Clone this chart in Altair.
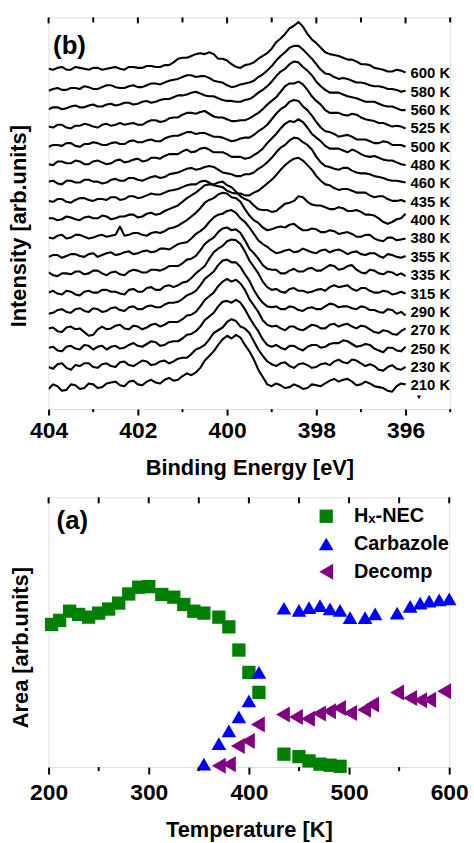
import altair as alt
import pandas as pd

# ---------------- data: panel (b) N1s spectra ----------------
energy = [404.0, 403.8, 403.6, 403.4, 403.2, 403.0, 402.8, 402.6, 402.4, 402.2,
          402.0, 401.8, 401.6, 401.4, 401.2, 401.0, 400.8, 400.6, 400.4, 400.2,
          400.0, 399.8, 399.6, 399.4, 399.2, 399.0, 398.8, 398.6, 398.4, 398.2,
          398.0, 397.8, 397.6, 397.4, 397.2, 397.0, 396.8, 396.6, 396.4, 396.2, 396.0]
energy_mid = [403.9, 403.7, 403.5, 403.3, 403.1, 402.9, 402.7, 402.5, 402.3, 402.1,
              401.9, 401.7, 401.5, 401.3, 401.1, 400.9, 400.7, 400.5, 400.3, 400.1,
              399.9, 399.7, 399.5, 399.3, 399.1, 398.9, 398.7, 398.5, 398.3, 398.1,
              397.9, 397.7, 397.5, 397.3, 397.1, 396.9, 396.7, 396.5, 396.3, 396.1]

spectrum_labels = ["210 K", "230 K", "250 K", "270 K", "290 K", "315 K", "335 K", "355 K",
                   "380 K", "400 K", "435 K", "460 K", "480 K", "500 K", "525 K", "560 K",
                   "580 K", "600 K"]

s210 = [-0.2, -0.05, -0.25, 0.0, -0.15, 0.05, -0.1, 0.15, 0.0, 0.2, 0.05, 0.2, 0.15, 0.3, 0.25, 0.5, 0.55, 0.95, 1.6, 2.2, 2.7, 2.75, 2.2, 1.4, 0.45, -0.05, 0.0, -0.1, -0.05, -0.15, 0.0, 0.1, 0.35, 0.3, 0.2, 0.05, 0.1, -0.1, -0.3, -0.05, 0.05]
m210 = [0.05, -0.3, 0.05, -0.2, 0.1, -0.15, 0.1, 0.2, -0.05, 0.25, 0.0, 0.3, 0.1, 0.4, 0.3, 0.65, 0.7, 1.35, 1.85, 2.5, 2.55, 2.6, 1.85, 0.85, 0.05, 0.1, -0.15, 0.05, -0.2, 0.05, -0.05, 0.25, 0.2, 0.35, 0.0, 0.2, -0.05, -0.15, -0.35, 0.1]
s230 = [0.0, 0.15, -0.05, 0.1, 0.2, 0.0, 0.15, 0.05, 0.25, 0.1, 0.2, 0.3, 0.15, 0.35, 0.3, 0.5, 0.7, 1.05, 1.5, 2.0, 2.45, 2.5, 2.1, 1.4, 0.6, 0.15, 0.2, 0.05, 0.15, 0.1, 0.0, 0.2, 0.3, 0.25, 0.4, 0.2, 0.15, -0.15, 0.0, -0.1, 0.0]
m230 = [-0.1, 0.2, -0.15, 0.05, 0.2, -0.05, 0.2, 0.0, 0.3, 0.05, 0.35, 0.1, 0.3, 0.2, 0.45, 0.5, 0.95, 1.2, 1.85, 2.15, 2.6, 2.2, 1.85, 0.95, 0.3, 0.05, 0.25, -0.05, 0.2, -0.05, 0.15, 0.1, 0.4, 0.2, 0.35, 0.05, 0.05, -0.2, 0.1, -0.15]
s250 = [0.05, -0.1, 0.1, 0.0, 0.2, -0.05, 0.15, 0.1, 0.0, 0.2, 0.15, 0.25, 0.35, 0.2, 0.4, 0.55, 0.8, 1.2, 1.75, 2.3, 2.6, 2.65, 2.15, 1.3, 0.5, 0.1, 0.05, 0.15, 0.0, 0.1, 0.2, 0.1, 0.3, 0.45, 0.25, 0.15, 0.2, -0.1, 0.05, -0.1, 0.1]
m250 = [0.1, -0.15, 0.15, -0.05, 0.15, 0.1, -0.05, 0.15, 0.05, 0.3, 0.1, 0.4, 0.15, 0.35, 0.4, 0.75, 0.95, 1.55, 1.95, 2.55, 2.5, 2.5, 1.7, 0.95, 0.2, 0.2, -0.05, 0.15, -0.1, 0.2, 0.05, 0.25, 0.3, 0.4, 0.1, 0.25, 0.0, -0.2, 0.05, -0.15]
s270 = [0.1, -0.05, 0.15, 0.05, -0.1, -0.25, 0.2, 0.1, 0.3, 0.05, 0.2, 0.15, 0.35, 0.3, 0.45, 0.6, 0.85, 1.3, 1.85, 2.4, 2.8, 2.75, 2.2, 1.35, 0.55, 0.2, 0.1, 0.2, 0.05, 0.15, 0.25, 0.1, 0.35, 0.3, 0.2, 0.25, 0.05, -0.15, -0.05, -0.25, 0.1]
m270 = [0.15, -0.1, 0.2, 0.1, -0.3, 0.05, 0.05, 0.25, 0.1, 0.25, 0.05, 0.3, 0.2, 0.45, 0.45, 0.8, 1.0, 1.65, 2.05, 2.65, 2.65, 2.55, 1.7, 1.0, 0.3, 0.25, 0.0, 0.2, 0.0, 0.3, 0.1, 0.3, 0.2, 0.35, 0.1, 0.2, -0.1, 0.0, -0.2, -0.05]
s290 = [-0.1, 0.1, 0.0, 0.15, 0.05, 0.2, 0.0, 0.2, 0.1, 0.25, 0.15, 0.3, 0.25, 0.4, 0.5, 0.7, 1.0, 1.45, 2.0, 2.55, 2.85, 2.7, 2.05, 1.2, 0.5, 0.25, 0.15, 0.3, 0.1, 0.2, 0.15, 0.3, 0.4, 0.3, 0.2, 0.3, 0.1, 0.0, 0.15, -0.1, -0.2]
m290 = [-0.05, 0.15, -0.05, 0.2, 0.0, 0.15, 0.05, 0.25, 0.05, 0.3, 0.15, 0.35, 0.25, 0.5, 0.55, 0.9, 1.15, 1.8, 2.2, 2.8, 2.7, 2.45, 1.7, 0.8, 0.3, 0.3, 0.15, 0.25, 0.05, 0.25, 0.15, 0.45, 0.25, 0.3, 0.15, 0.25, 0.1, -0.05, 0.1, 0.0]
s315 = [0.05, 0.0, 0.15, -0.05, 0.1, 0.05, 0.2, 0.1, 0.0, 0.2, 0.1, 0.3, 0.2, 0.4, 0.35, 0.6, 0.85, 1.3, 1.9, 2.45, 2.85, 2.9, 2.3, 1.45, 0.65, 0.2, 0.1, 0.25, 0.15, 0.05, 0.2, 0.15, 0.45, 0.4, 0.25, 0.3, 0.15, 0.05, 0.1, 0.0, 0.0]
m315 = [0.15, -0.05, 0.1, -0.1, 0.15, 0.05, 0.2, 0.1, -0.05, 0.25, 0.1, 0.35, 0.2, 0.45, 0.45, 0.65, 1.1, 1.5, 2.25, 2.6, 2.95, 2.7, 1.8, 1.1, 0.35, 0.25, 0.05, 0.3, 0.15, 0.1, 0.25, 0.35, 0.35, 0.45, 0.15, 0.3, 0.05, 0.15, -0.05, 0.1]
s335 = [0.15, -0.05, 0.1, 0.2, 0.05, 0.25, 0.1, 0.15, 0.05, 0.2, 0.25, 0.15, 0.3, 0.35, 0.5, 0.65, 0.9, 1.35, 1.9, 2.35, 2.6, 2.5, 1.9, 1.2, 0.55, 0.3, 0.1, 0.25, 0.2, 0.35, 0.25, 0.4, 0.5, 0.35, 0.55, 0.15, 0.3, 0.1, 0.2, 0.0, -0.05]
m335 = [0.0, 0.1, 0.05, 0.2, 0.1, 0.25, 0.0, 0.2, 0.0, 0.3, 0.15, 0.3, 0.25, 0.5, 0.5, 0.85, 1.05, 1.7, 2.05, 2.55, 2.45, 2.3, 1.45, 0.9, 0.35, 0.3, 0.1, 0.35, 0.2, 0.4, 0.25, 0.55, 0.3, 0.5, 0.3, 0.1, 0.25, 0.05, 0.15, 0.1]
s355 = [0.0, 0.1, 0.05, 0.15, 0.0, 0.2, 0.1, 0.25, 0.15, 0.3, 0.2, 0.35, 0.3, 0.45, 0.55, 0.75, 1.0, 1.4, 1.9, 2.3, 2.5, 2.4, 1.9, 1.25, 0.7, 0.35, 0.25, 0.4, 0.3, 0.35, 0.2, 0.4, 0.35, 0.3, 0.25, 0.15, 0.2, 0.05, 0.15, 0.0, 0.05]
m355 = [0.1, -0.05, 0.15, 0.05, 0.15, 0.0, 0.2, 0.1, 0.25, 0.15, 0.3, 0.25, 0.45, 0.4, 0.7, 0.8, 1.25, 1.6, 2.15, 2.35, 2.55, 2.1, 1.6, 0.9, 0.55, 0.2, 0.35, 0.25, 0.45, 0.25, 0.35, 0.25, 0.4, 0.15, 0.3, 0.1, 0.2, -0.05, 0.1, -0.05]
s380 = [0.05, 0.15, 0.0, 0.2, 0.1, 0.05, 0.2, 0.15, 0.65, 0.2, 0.3, 0.15, 0.35, 0.4, 0.6, 0.85, 1.2, 1.65, 2.1, 2.4, 2.45, 2.2, 1.6, 1.0, 0.6, 0.5, 0.65, 0.75, 0.6, 0.45, 0.5, 0.35, 0.4, 0.3, 0.25, 0.1, 0.2, -0.1, 0.05, -0.1, 0.0]
m380 = [0.0, 0.2, 0.05, 0.2, 0.0, 0.15, 0.1, 0.2, 0.15, 0.3, 0.2, 0.3, 0.3, 0.55, 0.7, 1.0, 1.4, 1.95, 2.2, 2.5, 2.25, 2.0, 1.25, 0.85, 0.45, 0.6, 0.6, 0.8, 0.45, 0.55, 0.35, 0.45, 0.25, 0.35, 0.1, 0.2, 0.0, -0.15, 0.05, -0.05]
s400 = [0.1, 0.0, 0.2, 0.05, 0.15, 0.1, 0.25, 0.05, 0.2, 0.3, 0.15, 0.35, 0.3, 0.5, 0.7, 1.0, 1.35, 1.7, 1.95, 2.05, 1.9, 1.55, 1.15, 0.8, 0.55, 0.45, 0.7, 0.95, 1.3, 1.0, 0.8, 0.7, 0.6, 0.65, 0.5, 0.45, 0.3, 0.1, -0.2, 0.05, 0.35]
m400 = [0.1, 0.05, 0.15, 0.0, 0.2, 0.1, 0.2, 0.1, 0.2, 0.3, 0.2, 0.4, 0.35, 0.6, 0.8, 1.2, 1.5, 1.9, 1.95, 2.1, 1.8, 1.3, 1.05, 0.6, 0.55, 0.5, 0.9, 1.05, 1.25, 0.85, 0.8, 0.6, 0.7, 0.5, 0.55, 0.3, 0.25, -0.1, -0.1, 0.1]
s435 = [0.05, 0.15, 0.0, 0.1, 0.2, 0.05, 0.15, 0.25, 0.1, 0.3, 0.2, 0.35, 0.4, 0.5, 0.65, 0.8, 0.95, 1.1, 1.05, 0.85, 0.6, 0.45, 0.35, 0.5, 0.8, 1.2, 1.75, 2.2, 2.4, 2.0, 1.4, 0.95, 0.75, 0.7, 0.6, 0.5, 0.35, 0.3, 0.15, 0.05, 0.0]
m435 = [0.0, 0.15, -0.05, 0.2, 0.1, 0.15, 0.1, 0.25, 0.15, 0.3, 0.25, 0.45, 0.4, 0.6, 0.7, 0.9, 0.95, 1.15, 0.9, 0.8, 0.5, 0.45, 0.35, 0.6, 1.0, 1.45, 2.0, 2.35, 2.25, 1.75, 1.15, 0.9, 0.65, 0.7, 0.5, 0.5, 0.25, 0.3, 0.05, 0.1]
s460 = [0.1, 0.0, 0.15, 0.05, 0.2, 0.1, 0.0, 0.2, 0.15, 0.3, 0.2, 0.25, 0.4, 0.35, 0.55, 0.7, 0.85, 0.8, 0.95, 0.75, 0.55, 0.4, 0.5, 0.6, 0.95, 1.4, 1.95, 2.35, 2.45, 2.1, 1.45, 0.95, 0.8, 0.85, 0.7, 0.55, 0.5, 0.35, 0.2, 0.15, 0.05]
m460 = [0.15, -0.05, 0.15, 0.05, 0.2, 0.1, 0.05, 0.25, 0.15, 0.3, 0.15, 0.35, 0.3, 0.5, 0.6, 0.8, 0.75, 0.9, 0.9, 0.6, 0.5, 0.4, 0.5, 0.8, 1.15, 1.7, 2.1, 2.5, 2.25, 1.85, 1.15, 0.9, 0.75, 0.85, 0.6, 0.55, 0.4, 0.3, 0.15, 0.1]
s480 = [0.05, 0.2, 0.1, 0.25, 0.05, 0.2, 0.15, 0.1, 0.3, 0.2, 0.35, 0.25, 0.4, 0.5, 0.6, 0.75, 0.7, 0.9, 0.85, 0.7, 0.6, 0.45, 0.35, 0.55, 0.9, 1.45, 2.0, 2.4, 2.5, 2.05, 1.5, 1.05, 0.9, 0.8, 0.85, 0.6, 0.45, 0.4, 0.25, 0.15, 0.0]
m480 = [0.0, 0.2, 0.1, 0.2, 0.05, 0.25, 0.05, 0.25, 0.15, 0.3, 0.2, 0.4, 0.35, 0.6, 0.6, 0.85, 0.75, 0.95, 0.7, 0.7, 0.45, 0.45, 0.4, 0.7, 1.2, 1.7, 2.25, 2.35, 2.35, 1.7, 1.3, 0.9, 0.9, 0.7, 0.75, 0.5, 0.5, 0.3, 0.25, 0.05]
s500 = [0.0, 0.1, 0.2, 0.05, 0.15, 0.25, 0.1, 0.2, 0.15, 0.3, 0.25, 0.35, 0.3, 0.45, 0.6, 0.7, 0.8, 0.75, 0.65, 0.55, 0.4, 0.35, 0.5, 0.65, 1.0, 1.5, 2.05, 2.45, 2.5, 2.0, 1.35, 0.85, 0.7, 0.6, 0.55, 0.4, 0.3, 0.2, 0.25, 0.1, 0.0]
m500 = [0.1, 0.05, 0.2, 0.0, 0.15, 0.2, 0.1, 0.25, 0.15, 0.35, 0.25, 0.4, 0.3, 0.55, 0.6, 0.8, 0.7, 0.75, 0.55, 0.5, 0.3, 0.45, 0.5, 0.85, 1.2, 1.8, 2.2, 2.55, 2.2, 1.7, 1.05, 0.8, 0.55, 0.65, 0.4, 0.4, 0.2, 0.3, 0.1, 0.1]
s525 = [0.1, 0.2, 0.05, 0.15, 0.25, 0.1, 0.2, 0.15, 0.3, 0.25, 0.2, 0.35, 0.45, 0.4, 0.6, 0.75, 0.85, 0.9, 0.8, 0.6, 0.5, 0.4, 0.45, 0.7, 1.05, 1.5, 2.0, 2.45, 2.55, 2.1, 1.5, 1.0, 0.85, 0.75, 0.8, 0.6, 0.45, 0.3, 0.2, 0.15, 0.0]
m525 = [0.05, 0.2, 0.0, 0.15, 0.2, 0.05, 0.25, 0.2, 0.2, 0.3, 0.2, 0.45, 0.35, 0.55, 0.6, 0.85, 0.8, 0.95, 0.65, 0.6, 0.4, 0.45, 0.55, 0.85, 1.3, 1.7, 2.3, 2.45, 2.4, 1.75, 1.3, 0.85, 0.85, 0.7, 0.75, 0.5, 0.4, 0.3, 0.1, 0.1]
s560 = [0.05, 0.15, 0.1, 0.25, 0.15, 0.3, 0.2, 0.35, 0.3, 0.4, 0.35, 0.5, 0.45, 0.6, 0.7, 0.8, 0.95, 0.9, 0.75, 0.65, 0.5, 0.45, 0.55, 0.75, 1.1, 1.55, 2.1, 2.5, 2.6, 2.15, 1.55, 1.1, 0.95, 0.85, 0.7, 0.55, 0.45, 0.35, 0.2, 0.1, 0.0]
m560 = [0.15, 0.05, 0.2, 0.15, 0.25, 0.2, 0.3, 0.25, 0.4, 0.3, 0.45, 0.4, 0.55, 0.6, 0.8, 0.85, 1.0, 0.8, 0.75, 0.55, 0.5, 0.45, 0.6, 0.95, 1.3, 1.85, 2.25, 2.65, 2.35, 1.9, 1.3, 0.95, 0.95, 0.75, 0.65, 0.45, 0.45, 0.25, 0.2, 0.0]
s580 = [0.05, 0.2, 0.1, 0.2, 0.3, 0.15, 0.25, 0.35, 0.2, 0.3, 0.25, 0.35, 0.45, 0.5, 0.65, 0.8, 0.9, 0.85, 0.75, 0.55, 0.35, 0.3, 0.45, 0.6, 0.95, 1.4, 1.95, 2.4, 2.5, 2.05, 1.5, 1.0, 0.8, 0.75, 0.6, 0.5, 0.35, 0.3, 0.15, 0.1, 0.05]
m580 = [0.15, 0.1, 0.2, 0.15, 0.25, 0.15, 0.35, 0.25, 0.2, 0.35, 0.25, 0.45, 0.4, 0.6, 0.7, 0.9, 0.8, 0.85, 0.6, 0.5, 0.25, 0.4, 0.5, 0.8, 1.15, 1.7, 2.15, 2.5, 2.3, 1.8, 1.2, 0.95, 0.7, 0.7, 0.5, 0.45, 0.3, 0.25, 0.15, 0.0]
s600 = [0.25, 0.3, 0.2, 0.35, 0.25, 0.3, 0.2, 0.3, 0.25, 0.35, 0.3, 0.4, 0.35, 0.45, 0.6, 0.85, 0.95, 1.1, 1.15, 0.8, 0.7, 0.35, 0.45, 0.6, 0.95, 1.35, 1.9, 2.45, 2.8, 2.15, 1.65, 1.15, 1.0, 0.85, 0.75, 0.5, 0.45, 0.25, 0.1, 0.2, 0.05]
m600 = [0.2, 0.35, 0.2, 0.3, 0.2, 0.3, 0.25, 0.35, 0.2, 0.35, 0.3, 0.4, 0.35, 0.45, 0.8, 0.85, 1.05, 1.05, 1.05, 0.8, 0.5, 0.3, 0.5, 0.8, 1.1, 1.7, 2.15, 2.6, 2.55, 1.85, 1.4, 1.05, 0.95, 0.75, 0.65, 0.5, 0.3, 0.2, 0.1, 0.15]

spectra = [s210, s230, s250, s270, s290, s315, s335, s355, s380, s400,
           s435, s460, s480, s500, s525, s560, s580, s600]
spectra_mid = [m210, m230, m250, m270, m290, m315, m335, m355, m380, m400,
               m435, m460, m480, m500, m525, m560, m580, m600]
stack_offsets = [0, 1, 2, 3, 4, 5, 6, 7, 8, 9, 10, 11, 12, 13, 14, 15, 16, 17]

energy_major = [404, 402, 400, 398, 396]
energy_minor = [403, 401, 399, 397, 395]
marker_E = [395.7]
marker_I = [-0.65]

# ---------------- data: panel (a) peak areas ----------------
nec_T = [203, 211, 221, 230, 240, 250, 260, 270, 280, 290, 300, 313, 325, 335, 345, 355,
         370, 380, 390, 400, 410, 435, 450, 460, 471, 481, 491]
nec_A = [52.9, 54.4, 57.8, 56.6, 55.6, 57.1, 58.6, 60.8, 64.2, 66.7, 66.9, 64.0, 63.0, 60.3,
         57.8, 57.1, 55.6, 52.0, 43.4, 35.1, 27.7, 4.8, 3.9, 2.3, 1.1, 0.7, 0.3]
carb_T = [355, 370, 380, 390, 400, 410, 435, 450, 460, 471, 481, 491, 501, 516, 526, 548,
          561, 571, 580, 590, 600]
carb_A = [1.1, 8.7, 13.4, 18.6, 24.6, 35.1, 58.9, 58.1, 59.1, 59.9, 58.7, 58.1, 55.4, 55.4,
          56.8, 57.1, 59.6, 60.8, 61.5, 62.0, 62.4]
dec_T = [370, 380, 389, 399, 409, 434, 447, 459, 470, 480, 490, 501, 515, 523, 548, 561,
         571, 580, 595]
dec_A = [0.5, 1.1, 7.8, 9.7, 15.8, 19.5, 18.6, 17.9, 19.9, 20.7, 21.9, 20.1, 21.3, 23.2,
         27.7, 25.6, 24.8, 25.0, 28.1]
series_names = ["H\u2093-NEC", "Carbazole", "Decomp"]
series_colors = ["#008000", "#0000FF", "#800080"]
series_shapes = ["square", "triangle-up", "triangle-left"]
series_sizes = [180, 260, 260]

temp_major = [200, 300, 400, 500, 600]
temp_minor = [250, 350, 450, 550]
temp_all = [200, 250, 300, 350, 400, 450, 500, 550, 600]

FONT = "Liberation Sans"

# ---------------- build tables ----------------
rows = []
for lab, off, vals, mids in zip(spectrum_labels, stack_offsets, spectra, spectra_mid):
    assert len(vals) == len(energy), lab
    assert len(mids) == len(energy_mid), lab
    for e, v in zip(energy, vals):
        rows.append({"E": e, "I": off + v, "S": lab})
    for e, v in zip(energy_mid, mids):
        rows.append({"E": e, "I": off + v, "S": lab})
spec_df = pd.DataFrame(rows).sort_values(["S", "E"]).reset_index(drop=True)
label_df = pd.DataFrame({"E": [energy[-1]] * len(spectrum_labels),
                         "I": stack_offsets, "S": spectrum_labels})

pts = []
for name, Ts, As in zip(series_names, [nec_T, carb_T, dec_T], [nec_A, carb_A, dec_A]):
    for t, a in zip(Ts, As):
        pts.append({"T": t, "A": a, "series": name})
pts_df = pd.DataFrame(pts)

# ---------------- panel (b) ----------------
W1, H1 = 405, 395
xE = alt.X("E:Q",
           scale=alt.Scale(domain=[395, 404], reverse=True, nice=False, zero=False),
           axis=alt.Axis(values=energy_major, format="d", title="Binding Energy [eV]",
                         labelFlush=False, tickSize=6, tickWidth=2, tickColor="black",
                         labelPadding=5, labelFontSize=23, labelFontWeight="bold",
                         labelFont=FONT, labelColor="black", titleFontSize=22,
                         titleFontWeight="bold", titleFont=FONT, titleColor="black",
                         titlePadding=15, domain=False, grid=False))
yI = alt.Y("I:Q",
           scale=alt.Scale(domain=[-1.3, 20.05], nice=False, zero=False),
           axis=alt.Axis(title="Intensity [arb.units]", labels=False, ticks=False,
                         domain=False, grid=False, titleFontSize=22, titleFontWeight="bold",
                         titleFont=FONT, titleColor="black", titlePadding=18, titleY=210))

lines = alt.Chart(spec_df).mark_line(color="black", strokeWidth=2.1, clip=True,
                                     strokeJoin="round").encode(
    x=xE, y=yI, detail="S:N", order="E:Q")
labels = alt.Chart(label_df).mark_text(align="left", baseline="middle", dx=5, fontSize=15,
                                       fontWeight="bold", font=FONT, color="black",
                                       clip=True).encode(x=xE, y=yI, text="S:N")
top_major_b = alt.Chart(pd.DataFrame({"E": energy_major})).mark_rule(
    color="black", strokeWidth=2).encode(x=xE, y=alt.value(0), y2=alt.value(6))
top_minor_b = alt.Chart(pd.DataFrame({"E": energy_minor})).mark_rule(
    color="black", strokeWidth=2).encode(x=xE, y=alt.value(0), y2=alt.value(5))
bot_minor_b = alt.Chart(pd.DataFrame({"E": energy_minor})).mark_rule(
    color="black", strokeWidth=2).encode(x=xE, y=alt.value(H1), y2=alt.value(H1 + 3))
tag_b = alt.Chart(pd.DataFrame({"E": [403.9], "I": [18.5], "t": ["(b)"]})).mark_text(
    align="left", baseline="middle", fontSize=26, fontWeight="bold", font=FONT,
    color="black").encode(x=xE, y=yI, text="t:N")
marker = alt.Chart(pd.DataFrame({"E": marker_E, "I": marker_I})).mark_point(
    shape="triangle-down", filled=True, color="black", size=18, opacity=1).encode(x=xE, y=yI)

panel_b = alt.layer(lines, labels, top_major_b, top_minor_b, bot_minor_b, tag_b, marker
                    ).properties(width=W1, height=H1)

# ---------------- panel (a) ----------------
W2, H2 = 404, 272
xT = alt.X("T:Q",
           scale=alt.Scale(domain=[200, 600], nice=False, zero=False),
           axis=alt.Axis(values=temp_major, format="d", title="Temperature [K]",
                         labelFlush=False, tickSize=7, tickWidth=2, tickColor="black",
                         labelPadding=8, labelFontSize=23, labelFontWeight="bold",
                         labelFont=FONT, labelColor="black", titleFontSize=22,
                         titleFontWeight="bold", titleFont=FONT, titleColor="black",
                         titlePadding=15, domain=False, grid=False))
yA = alt.Y("A:Q",
           scale=alt.Scale(domain=[0, 100], nice=False, zero=False),
           axis=alt.Axis(title="Area [arb.units]", labels=False, ticks=False,
                         domain=False, grid=False, titleFontSize=22, titleFontWeight="bold",
                         titleFont=FONT, titleColor="black", titlePadding=16, titleY=151))

legend_opts = dict(title=None, orient="none", legendX=270, legendY=493, padding=0,
                   symbolSize=220, labelFont=FONT, labelFontSize=20, labelFontWeight="bold",
                   labelColor="black", labelOffset=18, rowPadding=8, symbolStrokeWidth=0)
points = alt.Chart(pts_df).mark_point(filled=True, opacity=1, strokeWidth=0).encode(
    x=xT, y=yA,
    color=alt.Color("series:N", scale=alt.Scale(domain=series_names, range=series_colors),
                    legend=alt.Legend(**legend_opts)),
    shape=alt.Shape("series:N", scale=alt.Scale(domain=series_names, range=series_shapes),
                    legend=alt.Legend(**legend_opts)),
    size=alt.Size("series:N", scale=alt.Scale(domain=series_names, range=series_sizes),
                  legend=None),
)
top_ticks_a = alt.Chart(pd.DataFrame({"T": temp_all})).mark_rule(
    color="black", strokeWidth=2).encode(x=xT, y=alt.value(0), y2=alt.value(6))
bot_minor_a = alt.Chart(pd.DataFrame({"T": temp_minor})).mark_rule(
    color="black", strokeWidth=2).encode(x=xT, y=alt.value(H2), y2=alt.value(H2 + 4))
tag_a = alt.Chart(pd.DataFrame({"T": [208], "A": [91.2], "t": ["(a)"]})).mark_text(
    align="left", baseline="middle", fontSize=26, fontWeight="bold", font=FONT,
    color="black").encode(x=xT, y=yA, text="t:N")

panel_a = alt.layer(points, top_ticks_a, bot_minor_a, tag_a).properties(width=W2, height=H2)

chart = alt.vconcat(panel_b, panel_a, spacing=16).properties(
    padding={"left": 7, "top": 12, "right": 5, "bottom": 5}
).configure_view(stroke="black", strokeWidth=2).configure(background="white")

chart.save("out.html", embed_options={"renderer": "svg", "actions": False})
